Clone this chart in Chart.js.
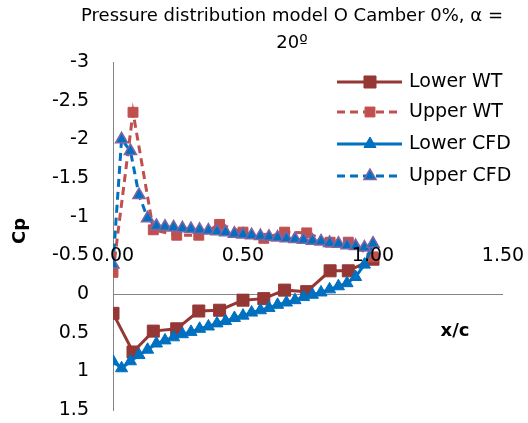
<!DOCTYPE html>
<html>
<head>
<meta charset="utf-8">
<script src="https://cdn.jsdelivr.net/npm/chart.js@4"></script>
<style>
  body { margin: 0; background: #fff; }
  #wrap { width: 528px; height: 423px; }
</style>
</head>
<body>
<div id="wrap"><canvas id="cpChart" width="528" height="423"></canvas></div>
<script>
// Chart data
const titleLines = ["Pressure distribution model O Camber 0%, \u03B1 =", "20\u00BA"];
const seriesNames = ["Lower WT", "Upper WT", "Lower CFD", "Upper CFD"];

const wtX = [0, 0.077, 0.155, 0.245, 0.33, 0.41, 0.5, 0.58, 0.66, 0.745, 0.835, 0.905, 1.0];
const lowerWtCp = [0.25, 0.75, 0.48, 0.45, 0.22, 0.21, 0.08, 0.06, -0.05, -0.03, -0.30, -0.30, -0.45];
const upperWtCp = [-0.28, -2.35, -0.83, -0.76, -0.76, -0.90, -0.80, -0.72, -0.80, -0.79, -0.67, -0.67, -0.48];

const cfdX = [0, 0.033, 0.067, 0.1, 0.133, 0.167, 0.2, 0.233, 0.267, 0.3, 0.333, 0.367, 0.4, 0.433, 0.467,
  0.5, 0.533, 0.567, 0.6, 0.633, 0.667, 0.7, 0.733, 0.767, 0.8, 0.833, 0.867, 0.9, 0.933, 0.967, 1.0];
const lowerCfdCp = [0.87, 0.96, 0.87, 0.79, 0.72, 0.64, 0.60, 0.56, 0.52, 0.49, 0.45, 0.42, 0.38, 0.35, 0.31,
  0.28, 0.24, 0.21, 0.18, 0.14, 0.11, 0.08, 0.04, 0.01, -0.02, -0.06, -0.10, -0.14, -0.22, -0.38, -0.65];
const upperCfdCp = [-0.38, -2.0, -1.85, -1.28, -0.98, -0.88, -0.87, -0.86, -0.85, -0.84, -0.83, -0.82, -0.81, -0.80, -0.78,
  -0.77, -0.76, -0.75, -0.74, -0.73, -0.72, -0.71, -0.70, -0.69, -0.68, -0.66, -0.65, -0.63, -0.62, -0.60, -0.65];

const xTicks = [0, 0.5, 1.0, 1.5];
const xTickLabels = ["0.00", "0.50", "1.00", "1.50"];
const yTicks = [-3, -2.5, -2, -1.5, -1, -0.5, 0, 0.5, 1, 1.5];
const yTickLabels = ["-3", "-2.5", "-2", "-1.5", "-1", "-0.5", "0", "0.5", "1", "1.5"];

const FONT = "'DejaVu Sans', sans-serif";
const AXIS_COLOR = "#868686";

function toPoints(xs, ys) {
  return xs.map((x, i) => ({ x: x, y: ys[i] }));
}

const datasets = [
  {
    label: seriesNames[0],
    data: toPoints(wtX, lowerWtCp),
    borderColor: "#953735",
    backgroundColor: "#953735",
    borderWidth: 3,
    pointStyle: "rect",
    pointRadius: 8.5,
    pointBorderWidth: 1,
    order: 4
  },
  {
    label: seriesNames[1],
    data: toPoints(wtX, upperWtCp),
    borderColor: "#C0504D",
    backgroundColor: "#C0504D",
    borderWidth: 3,
    borderDash: [8, 5],
    pointStyle: "rect",
    pointRadius: 7,
    pointBorderWidth: 1,
    order: 3
  },
  {
    label: seriesNames[2],
    data: toPoints(cfdX, lowerCfdCp),
    borderColor: "#0070C0",
    backgroundColor: "#0070C0",
    borderWidth: 3,
    pointStyle: "triangle",
    pointRadius: 7,
    pointBorderWidth: 1,
    order: 2
  },
  {
    label: seriesNames[3],
    data: toPoints(cfdX, upperCfdCp),
    borderColor: "#0070C0",
    backgroundColor: "#0070C0",
    borderWidth: 3,
    borderDash: [8, 5],
    pointStyle: "triangle",
    pointRadius: 7,
    pointBorderColor: "#8064A2",
    pointBorderWidth: 1.5,
    order: 1
  }
];

// Horizontal axis line where Cp = 0 (Excel crosses the axis there)
const zeroAxisPlugin = {
  id: "zeroAxis",
  beforeDatasetsDraw(chart) {
    const c = chart.ctx;
    const area = chart.chartArea;
    const y = Math.round(chart.scales.y.getPixelForValue(0)) + 0.5;
    c.save();
    c.strokeStyle = AXIS_COLOR;
    c.lineWidth = 1;
    c.beginPath();
    c.moveTo(area.left, y);
    c.lineTo(area.right, y);
    c.stroke();
    c.restore();
  }
};

// Title, axis titles, x tick labels (above the axis like Excel) and legend
const overlayPlugin = {
  id: "overlay",
  afterDraw(chart) {
    const c = chart.ctx;
    const xs = chart.scales.x;
    c.save();
    c.fillStyle = "#000";

    // title
    c.font = "18px " + FONT;
    c.textAlign = "center";
    c.textBaseline = "middle";
    c.fillText(titleLines[0], 292, 16);
    c.fillText(titleLines[1], 292, 43);

    // x tick labels
    c.font = "19px " + FONT;
    xTicks.forEach((v, i) => {
      c.fillText(xTickLabels[i], xs.getPixelForValue(v), 256);
    });

    // axis titles
    c.font = "bold 18px " + FONT;
    c.fillText("x/c", 455, 331);
    c.save();
    c.translate(20, 231);
    c.rotate(-Math.PI / 2);
    c.fillText("Cp", 0, 0);
    c.restore();

    // legend
    const rowsY = [82, 112, 144, 176];
    chart.data.datasets.forEach((ds, i) => {
      const y = rowsY[i];
      c.save();
      c.strokeStyle = ds.borderColor;
      c.lineWidth = ds.borderWidth;
      c.setLineDash(ds.borderDash || []);
      c.beginPath();
      c.moveTo(337, y);
      c.lineTo(402, y);
      c.stroke();
      c.restore();
      c.save();
      c.fillStyle = ds.backgroundColor;
      c.strokeStyle = ds.pointBorderColor || ds.borderColor;
      c.lineWidth = ds.pointBorderWidth;
      Chart.helpers.drawPoint(c, {
        pointStyle: ds.pointStyle,
        radius: ds.pointRadius,
        borderWidth: ds.pointBorderWidth,
        rotation: 0
      }, 370, y);
      c.restore();
      c.fillStyle = "#000";
      c.font = "19px " + FONT;
      c.textAlign = "left";
      c.fillText(ds.label, 409, y);
    });
    c.restore();
  }
};

new Chart(document.getElementById("cpChart").getContext("2d"), {
  type: "line",
  data: { datasets: datasets },
  options: {
    responsive: false,
    animation: false,
    layout: { autoPadding: false, padding: { left: 0, right: 25, top: 62, bottom: 13 } },
    plugins: {
      legend: { display: false },
      title: { display: false },
      tooltip: { enabled: false }
    },
    elements: { line: { tension: 0, fill: false } },
    scales: {
      x: {
        type: "linear",
        display: false,
        min: 0,
        max: 1.5,
        position: "bottom"
      },
      y: {
        type: "linear",
        min: -3,
        max: 1.5,
        reverse: true,
        position: "left",
        grid: { display: false, drawTicks: false },
        border: { display: true, color: AXIS_COLOR, width: 1 },
        afterFit(scale) {
          scale.width = 113;
          scale.paddingTop = 0;
          scale.paddingBottom = 0;
        },
        afterBuildTicks(scale) { scale.ticks = yTicks.map(v => ({ value: v })); },
        ticks: {
          padding: 24,
          color: "#000",
          font: { family: FONT, size: 19 },
          callback: (v) => {
            const i = yTicks.indexOf(v);
            return i >= 0 ? yTickLabels[i] : "";
          }
        }
      }
    }
  },
  plugins: [zeroAxisPlugin, overlayPlugin]
});
</script>
</body>
</html>
